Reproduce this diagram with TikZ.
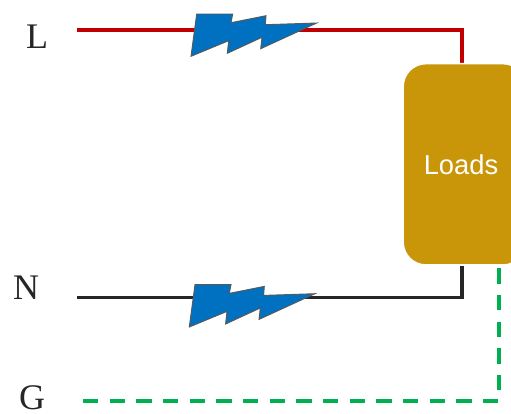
\documentclass[tikz,border=0pt]{standalone}
\usepackage{fontspec}
\setmainfont{Liberation Serif}
\setsansfont{Liberation Sans}
\usetikzlibrary{positioning}

\definecolor{wirered}{HTML}{C00000}
\definecolor{wireblack}{HTML}{262626}
\definecolor{wiregreen}{HTML}{00B050}
\definecolor{boltblue}{HTML}{0070C0}
\definecolor{boltedge}{HTML}{595959}
\definecolor{loadgold}{HTML}{C99509}

\begin{document}
\begin{tikzpicture}[
		x=0.75pt,
		y=-0.75pt,
		linelabel/.style={font=\fontsize{27}{27}\selectfont, text=wireblack, inner sep=0pt},
		wire/.style={line width=2.5pt, line join=miter},
		loadbox/.style={
			draw=white,
			line width=1.2pt,
			fill=loadgold,
			rectangle,
			rounded corners=17pt,
			minimum width=92pt,
			minimum height=151pt,
			inner sep=0pt
		},
		boltshape/.pic={
			\draw[fill=boltblue, draw=boltedge, line width=0.7pt, line join=miter]
			(196.7,14) -- (232.7,14) -- (231,22.7) -- (266,15.7) -- (265.3,24.7) -- (316.7,23)
			-- (260.7,48.7) -- (262,37.3) -- (227.3,53.3) -- (228.7,40.7) -- (191,56.3) -- cycle;
		}
		]
		\useasboundingbox (0,0) rectangle (511,414);
		
		% ---- Line labels ----
		\node[linelabel] (lineL) at (37,37) {L};
		\node[linelabel] (lineN) at (26,288) {N};
		\node[linelabel] (lineG) at (32,398) {G};
		
		% ---- Wire ends ----
		\coordinate (startL) at (77,30);
		\coordinate (startN) at (77,297.5);
		\coordinate (startG) at (83,401);
		\coordinate (tapL) at (462,66);
		\coordinate (tapN) at (462,262);
		\coordinate (tapG) at (499,264);
		
		% ---- Wires ----
		\draw[wire, wirered] (startL) -| (tapL);
		\draw[wire, wireblack] (startN) -| (tapN);
		\draw[wire, wiregreen, dash pattern=on 11.5pt off 8.5pt] (startG) -| (tapG);
		
		% ---- Loads ----
		\node[loadbox] (loads) at (464.5,164.3) {};
		\node[font=\sffamily\fontsize{20.5}{20.5}\selectfont, text=white, inner sep=0pt] (loadstext) at (461,165) {Loads};
		
		% ---- Bolts ----
		\pic (boltL) at (0,0) {boltshape};
		\pic (boltN) at (-1.7,270.7) {boltshape};
		
	\end{tikzpicture}
\end{document}
